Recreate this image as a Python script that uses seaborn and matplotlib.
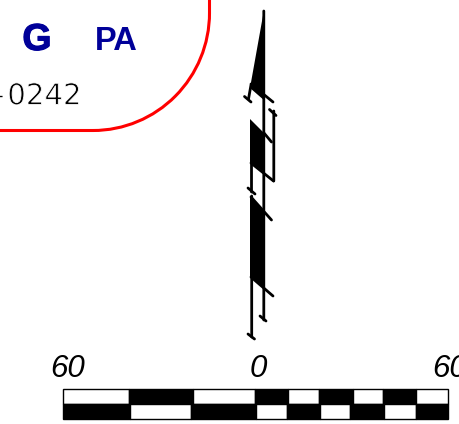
import numpy as np
import pandas as pd
import matplotlib
matplotlib.use('Agg')
from matplotlib import pyplot as plt
from matplotlib.patches import Arc
import matplotlib.patheffects as pe
import seaborn as sns

# everything, in image pixels (y goes down)
RUNWAY_LINES = {
	'right': [(263.8, 11), (263.8, 320)],
	'right_end': [(260, 316), (266, 321)],
	'left_top': [(251, 85), (248.5, 99)],
	'left_top_end': [(244.5, 96.5), (251, 102)],
	'top_diag': [(251, 84), (273, 102)],
	'far_right': [(273.8, 111), (273.8, 181)],
	'far_right_end': [(269.5, 109.5), (276, 115.5)],
	'mid_diag1': [(264, 133), (271.5, 142)],
	'mid_diag2': [(251, 163), (273.5, 181)],
	'left_mid': [(251.5, 160), (251.5, 192)],
	'left_mid_end': [(248, 188), (255, 194)],
	'low_diag1': [(251, 197), (271.5, 220)],
	'low_diag2': [(251, 277), (273, 296)],
	'left_low': [(251.7, 196), (251.7, 337)],
	'left_low_end': [(248, 334), (254.5, 339)],
}
RUNWAY_FILLS = [
	[(263.8, 11), (250, 88), (263.8, 100)],
	[(250, 119), (264, 133), (264, 172), (250, 162)],
	[(250, 197), (264, 211), (264, 287), (250, 277)],
]
BORDER_LINES = {
	'bottom': [(0, 130.5), (93, 130.5)],
	'right': [(209.5, 13), (209.5, 0)],
}
SCALE_TOP = [63, 129, 193, 255, 288, 319, 353, 383, 416, 448]
SCALE_BOTTOM = [63, 130, 191, 256, 287, 320, 350, 384, 416, 448]
SCALE_LABELS = ['60', '0', '60']
SCALE_LABEL_X = [50, 250, 432]

sns.set_style('white')
fig = plt.figure(figsize=(4.59, 4.24), dpi=100)
ax = fig.add_axes([0, 0, 1, 1])

def drawLines(lines, color, width):
	rows = []
	for name in lines:
		for i, p in enumerate(lines[name]):
			rows.append({'seg': name, 'order': i, 'x': p[0], 'y': p[1]})
	sns.lineplot(data=pd.DataFrame(rows), x='x', y='y', units='seg', estimator=None, sort=False,
		color=color, linewidth=width, legend=False, ax=ax)

for poly in RUNWAY_FILLS:
	pts = np.array(poly)
	ax.fill(pts[:, 0], pts[:, 1], color='black', lw=0)
drawLines(RUNWAY_LINES, 'black', 2.0)
drawLines(BORDER_LINES, 'red', 2.2)
ax.add_patch(Arc((93, 13), 233, 235, theta1=0, theta2=90, color='red', lw=2.2))
for l in ax.lines:
	l.set_snap(False)

# scale bar, two rows of alternating cells
def drawScale(edges, top, height, first_black):
	for i in range(len(edges) - 1):
		black = (i % 2 == 0) == first_black
		ax.barh(top + height / 2.0, edges[i + 1] - edges[i], height=height, left=edges[i],
			color='black' if black else 'white', edgecolor='black', linewidth=1.0)

drawScale(SCALE_TOP, 388.5, 15.5, False)
drawScale(SCALE_BOTTOM, 404, 15, True)

for s, x in zip(SCALE_LABELS, SCALE_LABEL_X):
	ax.text(x, 377, s, family='Liberation Sans', style='italic', fontsize=22.5, color='black', ha='left', va='baseline')

heavy = [pe.withStroke(linewidth=0.8, foreground='#000099')]
ax.text(37, 50, 'G', family='Liberation Sans', weight='bold', fontsize=27, color='#000099', ha='center', va='baseline', path_effects=heavy)
ax.text(116.5, 50, 'PA', family='Liberation Sans', weight='bold', fontsize=23.5, color='#000099', ha='center', va='baseline')
# thin strokes: white outline eats into the DejaVu digits
thin = [pe.Stroke(linewidth=0.6, foreground='white')]
ax.text(81, 104.5, '-\u200a0242', family='DejaVu Sans', fontsize=21, color='black', ha='right', va='baseline', path_effects=thin)

ax.set_xlim(0, 459)
ax.set_ylim(424, 0)
ax.set_xlabel('')
ax.set_ylabel('')
ax.axis('off')
plt.savefig('out.png', dpi=100)
